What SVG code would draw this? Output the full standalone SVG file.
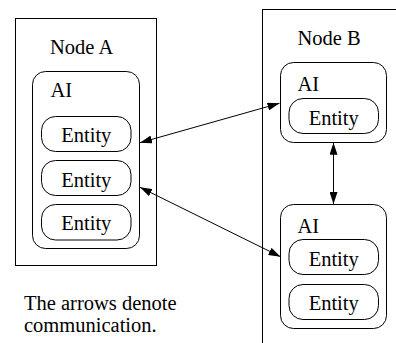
<svg xmlns="http://www.w3.org/2000/svg" width="396" height="343" viewBox="0 0 396 343">
<defs>
<marker id="ae" markerUnits="userSpaceOnUse" markerWidth="12" markerHeight="8" refX="12" refY="4" orient="auto" viewBox="0 0 12 8">
<path d="M0,0 L12,4 L0,8 z" fill="#000"/>
</marker>
<marker id="as" markerUnits="userSpaceOnUse" markerWidth="12" markerHeight="8" refX="0" refY="4" orient="auto" viewBox="0 0 12 8">
<path d="M12,0 L0,4 L12,8 z" fill="#000"/>
</marker>
</defs>
<style>
.box{fill:#fff;stroke:#000;stroke-width:1}
.ln{stroke:#000;stroke-width:1;fill:none}
</style>
<rect width="396" height="343" fill="#fff"/>
<g id="nodeA">
<rect class="box" x="15.5" y="18.5" width="141" height="247"/>
<text style="font-family:'Times New Roman','Liberation Serif',serif;font-size:20.5px" x="50" y="54">Node A</text>
</g>
<g id="aiA">
<rect class="box" x="32.5" y="71.5" width="107" height="177" rx="13"/>
<text style="font-family:'Times New Roman','Liberation Serif',serif;font-size:20.5px" x="50.5" y="96.5">AI</text>
</g>
<g id="entA1">
<rect class="box" x="41.5" y="116.5" width="89.5" height="35" rx="14"/>
<text style="font-family:'Times New Roman','Liberation Serif',serif;font-size:20.5px" text-anchor="middle" x="86.3" y="141.5">Entity</text>
</g>
<g id="entA2">
<rect class="box" x="41.5" y="160.5" width="89.5" height="35" rx="14"/>
<text style="font-family:'Times New Roman','Liberation Serif',serif;font-size:20.5px" text-anchor="middle" x="86.3" y="186.5">Entity</text>
</g>
<g id="entA3">
<rect class="box" x="41.5" y="204.5" width="89.5" height="35.5" rx="14"/>
<text style="font-family:'Times New Roman','Liberation Serif',serif;font-size:20.5px" text-anchor="middle" x="86.3" y="230">Entity</text>
</g>
<g id="nodeB">
<rect class="box" x="262.5" y="9.5" width="140" height="340"/>
<text style="font-family:'Times New Roman','Liberation Serif',serif;font-size:20.5px" x="297.5" y="45">Node B</text>
</g>
<g id="aiB1">
<rect class="box" x="280.5" y="62.5" width="106" height="80" rx="13"/>
<text style="font-family:'Times New Roman','Liberation Serif',serif;font-size:20.5px" x="297.5" y="91">AI</text>
</g>
<g id="entB1">
<rect class="box" x="289" y="98.5" width="89.5" height="35" rx="14"/>
<text style="font-family:'Times New Roman','Liberation Serif',serif;font-size:20.5px" text-anchor="middle" x="333.7" y="125">Entity</text>
</g>
<g id="aiB2">
<rect class="box" x="280.5" y="204.5" width="106" height="124" rx="13"/>
<text style="font-family:'Times New Roman','Liberation Serif',serif;font-size:20.5px" x="297.5" y="232.5">AI</text>
</g>
<g id="entB2">
<rect class="box" x="289" y="239.5" width="89.5" height="35" rx="14"/>
<text style="font-family:'Times New Roman','Liberation Serif',serif;font-size:20.5px" text-anchor="middle" x="333.7" y="266">Entity</text>
</g>
<g id="entB3">
<rect class="box" x="289" y="284.5" width="89.5" height="35" rx="14"/>
<text style="font-family:'Times New Roman','Liberation Serif',serif;font-size:20.5px" text-anchor="middle" x="333.7" y="310">Entity</text>
</g>
<g id="connectors">
<line class="ln" marker-start="url(#as)" marker-end="url(#ae)" x1="140" y1="142.7" x2="279.5" y2="103.3"/>
<line class="ln" marker-start="url(#as)" marker-end="url(#ae)" x1="140" y1="187.3" x2="280.5" y2="256.7"/>
<line class="ln" marker-start="url(#as)" marker-end="url(#ae)" x1="333.5" y1="142.7" x2="333.5" y2="204"/>
</g>
<g id="note">
<text style="font-family:'Times New Roman','Liberation Serif',serif;font-size:20.5px" x="24" y="310">The arrows denote</text>
<text style="font-family:'Times New Roman','Liberation Serif',serif;font-size:20.5px" x="24" y="331.5">communication.</text>
</g>
</svg>
